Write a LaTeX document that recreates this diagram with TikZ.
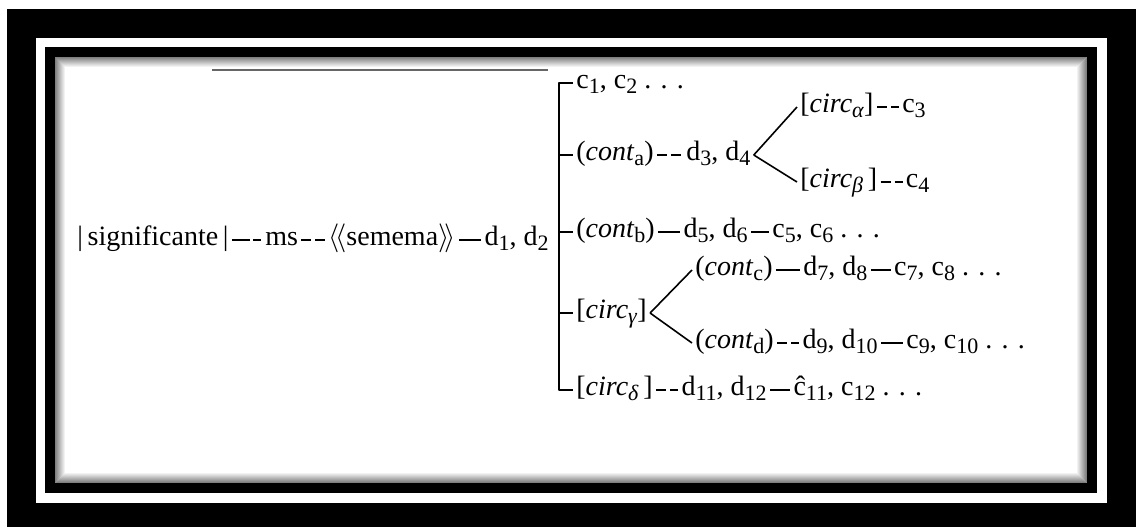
\documentclass[tikz,border=0pt]{standalone}
\usepackage{fontspec}
\setmainfont{Liberation Serif}
\usetikzlibrary{positioning}

\newcommand{\ix}[1]{\raisebox{-0.4ex}{\fontsize{11}{11}\selectfont #1}}

\begin{document}
\begin{tikzpicture}[x=0.5pt,y=-0.5pt,line join=round,font=\fontsize{14}{16}\selectfont,
    voce/.style={inner xsep=1.5pt,inner ysep=0pt,text height=0.75em,text depth=0.25em,anchor=west},
    tratto/.style={line width=0.8pt},
    trattini/.style={line width=0.8pt,dash pattern=on 5pt off 2pt},
    lungo/.style={line width=0.8pt,dash pattern=on 9pt off 1.5pt on 4pt off 20pt},
    spina/.style={line width=1.1pt},
    ramo/.style={line width=0.8pt}]

  \useasboundingbox (0,0) rectangle (1136,527);

  % ---- cornice --------------------------------------------------------------
  \fill (7,9) rectangle (1136,527);
  \fill[white] (36,38) rectangle (1107,503);
  \fill (45,47) rectangle (1097,493);
  \fill[white] (55,57) rectangle (1087,483);
  \foreach \k [evaluate=\k as \g using int(50-5*\k)] in {0,...,9}
    \draw[black!\g,line width=0.5pt] (55.5+\k,57.5+\k) rectangle (1086.5-\k,482.5-\k);
  \draw[black!60,line width=0.6pt] (212,70) -- (548,70);

  % ---- riga principale -------------------------------------------------------
  \node[voce] (sig) at (74,240) {|\,significante\,|};
  \node[voce,right=15pt of sig] (ms) {ms};
  \node[voce,right=12pt of ms] (sem) {$\langle\!\langle$semema$\rangle\!\rangle$};
  \node[voce,right=11pt of sem] (d12) {d\ix{1}, d\ix{2}};

  \draw[lungo] (sig) -- (ms);
  \draw[trattini] (ms) -- (sem);
  \draw[tratto] (sem) -- (d12);

  % ---- i rami della parentesi -------------------------------------------------
  \node[voce] (c12) at (573,83) {c\ix{1}, c\ix{2} . . .};

  \node[voce] (conta) at (573,155) {(\textit{cont}\ix{a})};
  \node[voce,right=13pt of conta] (d34) {d\ix{3}, d\ix{4}};
  \node[voce] (calpha) at (797,107) {[\textit{circ}\ix{\textit{α}}]};
  \node[voce,right=11pt of calpha] (c3) {c\ix{3}};
  \node[voce] (cbeta) at (797,182) {[\textit{circ}\ix{\textit{β}}\,]};
  \node[voce,right=11pt of cbeta] (c4) {c\ix{4}};

  \node[voce] (contb) at (573,232) {(\textit{cont}\ix{b})};
  \node[voce,right=11pt of contb] (d56) {d\ix{5}, d\ix{6}};
  \node[voce,right=9pt of d56] (c56) {c\ix{5}, c\ix{6} . . .};

  \node[voce] (circg) at (573,313) {[\textit{circ}\ix{\textit{γ}}]};
  \node[voce] (contc) at (692,270) {(\textit{cont}\ix{c})};
  \node[voce,right=12pt of contc] (d78) {d\ix{7}, d\ix{8}};
  \node[voce,right=10pt of d78] (c78) {c\ix{7}, c\ix{8} . . .};
  \node[voce] (contd) at (692,343) {(\textit{cont}\ix{d})};
  \node[voce,right=11pt of contd] (d910) {d\ix{9}, d\ix{10}};
  \node[voce,right=11pt of d910] (c910) {c\ix{9}, c\ix{10} . . .};

  \node[voce] (circd) at (573,390) {[\textit{circ}\ix{\textit{δ}}\,]};
  \node[voce,right=11pt of circd] (d1112) {d\ix{11}, d\ix{12}};
  \node[voce,right=10pt of d1112] (c1112) {ĉ\ix{11}, c\ix{12} . . .};

  \draw[trattini] (conta) -- (d34);
  \draw[ramo] (d34.east) -- (calpha.west);
  \draw[ramo] (d34.east) -- (cbeta.west);
  \draw[trattini] (calpha) -- (c3);
  \draw[trattini] (cbeta) -- (c4);
  \draw[tratto] (contb) -- (d56);
  \draw[tratto] (d56) -- (c56);
  \draw[ramo] (circg.east) -- (contc.west);
  \draw[ramo] (circg.east) -- (contd.west);
  \draw[tratto] (contc) -- (d78);
  \draw[tratto] (d78) -- (c78);
  \draw[trattini] (contd) -- (d910);
  \draw[tratto] (d910) -- (c910);
  \draw[trattini] (circd) -- (d1112);
  \draw[tratto] (d1112) -- (c1112);

  % ---- la parentesi ------------------------------------------------------------
  \coordinate (dorso) at (559,0);
  \draw[spina] (c12.west) -- (c12.west -| dorso) -- (circd.west -| dorso) -- (circd.west);
  \foreach \n in {conta,contb,circg}
    \draw[spina] (\n.west -| dorso) -- (\n.west);

\end{tikzpicture}
\end{document}
